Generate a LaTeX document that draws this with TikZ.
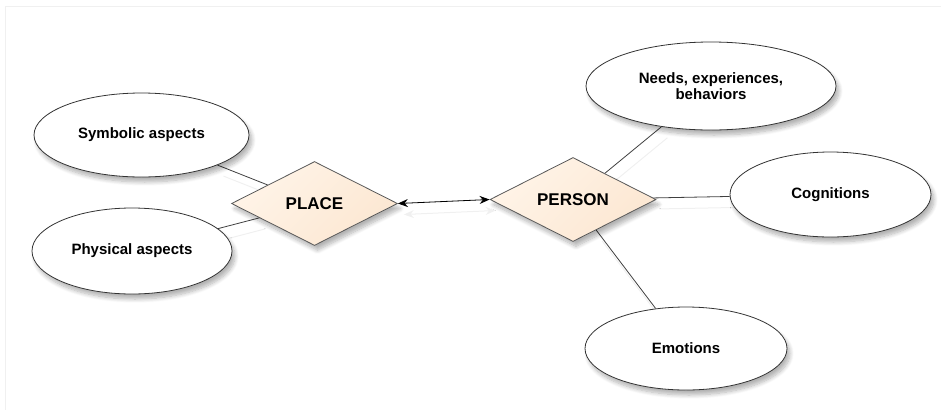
\documentclass[tikz,border=0pt]{standalone}
\usepackage{fontspec}
\setmainfont{Liberation Sans}
\usetikzlibrary{shapes.geometric,arrows.meta,shadows.blur,backgrounds}

\definecolor{peachlight}{RGB}{255,244,232}
\definecolor{peachdark}{RGB}{252,231,210}
\definecolor{inkline}{RGB}{64,64,64}

\begin{document}
\begin{tikzpicture}[x=1pt,y=-1pt,
  >={Stealth[length=10pt,width=8pt]},
  softshadow/.style={blur shadow={shadow xshift=3pt,shadow yshift=-5pt,
      shadow blur radius=4pt,shadow blur steps=8,shadow opacity=30}},
  attr/.style={ellipse,draw=black!80,line width=0.8pt,fill=white,inner sep=0pt,
      align=center,text=black,font=\fontsize{15}{16.5}\selectfont\bfseries,softshadow},
  rel/.style={diamond,draw=black!65,line width=0.8pt,inner sep=0pt,
      minimum width=166pt,minimum height=84pt,text=black,
      font=\fontsize{17}{20}\selectfont\bfseries,
      top color=peachlight,bottom color=peachdark,shading angle=45,softshadow},
  link/.style={draw=inkline,line width=0.8pt},
  linkshadow/.style={draw=black!6,line width=1pt}
]
\useasboundingbox (0,0) rectangle (941,410);

% faint page frame
\draw[black!6,line width=1pt] (5,410) -- (5,6) -- (941,6);

% attribute ellipses
\node[attr,minimum width=215pt,minimum height=84pt] (sym) at (141.5,135) {Symbolic aspects};
\node[attr,minimum width=200pt,minimum height=86pt] (phy) at (132,251) {Physical aspects};
\node[attr,minimum width=250pt,minimum height=88pt] (needs) at (711,86) {Needs, experiences,\\behaviors};
\node[attr,minimum width=201pt,minimum height=85pt] (cog) at (830.5,194.5) {Cognitions};
\node[attr,minimum width=202pt,minimum height=83pt] (emo) at (686,348.5) {Emotions};

% relationship diamonds
\node[rel] (place) at (314.5,203.5) {PLACE};
\node[rel] (person) at (573,199.5) {PERSON};

% connectors, drawn behind the shapes
\begin{scope}[on background layer]
  \begin{scope}[transform canvas={xshift=6pt,yshift=-11pt}]
    \draw[linkshadow] (sym) -- (place);
    \draw[linkshadow] (phy) -- (place);
    \draw[linkshadow] (needs) -- (person);
    \draw[linkshadow] (cog) -- (person);
    \draw[linkshadow] (emo) -- (person);
    \draw[linkshadow,<->] (place.east) -- (person.west);
  \end{scope}
  \draw[link] (sym) -- (place);
  \draw[link] (phy) -- (place);
  \draw[link] (needs) -- (person);
  \draw[link] (cog) -- (person);
  \draw[link] (emo) -- (person);
\end{scope}

% relation between place and person
\draw[black,line width=0.8pt,<->] (place.east) -- (person.west);
\end{tikzpicture}
\end{document}
